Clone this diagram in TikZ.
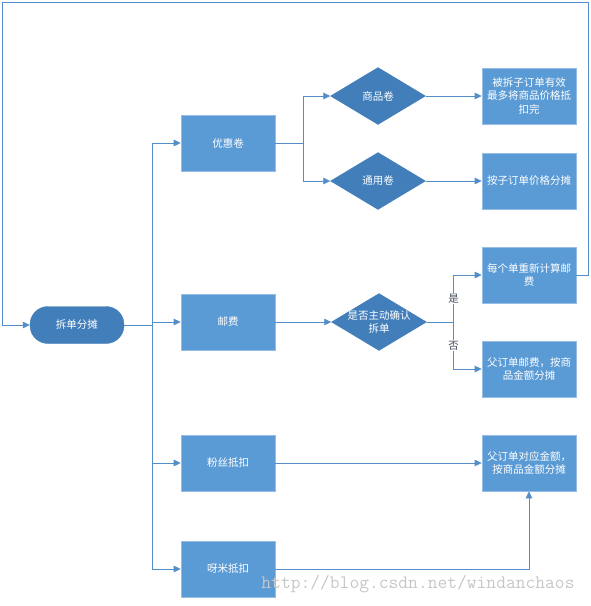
\documentclass[tikz,border=0pt]{standalone}
\usepackage{fontspec}
\newfontfamily\cjk{Noto Sans CJK SC}
\usetikzlibrary{shapes.geometric, arrows.meta, positioning, calc}
\definecolor{boxblue}{RGB}{91,155,213}
\definecolor{boxedge}{RGB}{150,190,228}
\definecolor{decblue}{RGB}{66,126,186}
\definecolor{flowline}{RGB}{84,141,200}
\definecolor{labelgray}{RGB}{70,80,95}

\begin{document}
\begin{tikzpicture}[x=1pt, y=-1pt,
  every node/.style={font=\cjk\fontsize{10.5}{13.5}\selectfont},
  stepbox/.style={rectangle, fill=boxblue, draw=boxedge, line width=0.6pt,
    minimum width=94pt, minimum height=56pt, inner sep=1pt, align=center, text=white},
  startbox/.style={rectangle, rounded corners=18pt, fill=decblue, draw=decblue,
    minimum width=94pt, minimum height=37pt, text=white},
  decision/.style={diamond, fill=decblue, draw=decblue, inner sep=0pt,
    minimum width=95pt, minimum height=57pt},
  flow/.style={draw=flowline, line width=0.8pt, -{Triangle[length=7pt, width=6.5pt]}},
  branch/.style={fill=white, text=labelgray, inner sep=1pt}]
  \useasboundingbox (0,0) rectangle (590,606);

  % Start and first level
  \node[startbox] (split) at (77,325) {拆单分摊};
  \node[stepbox] (coupon) at (228,143) {优惠卷};
  \node[stepbox] (postage) at (228,322) {邮费};
  \node[stepbox] (fans) at (228,463) {粉丝抵扣};
  \node[stepbox] (yami) at (228,569) {呀米抵扣};

  % Decisions
  \node[decision, label={[text=white]center:商品卷}] (goods) at (378,96) {};
  \node[decision, label={[text=white]center:通用卷}] (general) at (378,181) {};
  \node[decision, label={[text=white, align=center]center:是否主动确认\\拆单}] (confirm) at (379,322) {};

  % Results
  \node[stepbox] (goodsres) at (529,96) {被拆子订单有效\\最多将商品价格抵\\扣完};
  \node[stepbox] (generalres) at (529,181) {按子订单价格分摊};
  \node[stepbox] (recalc) at (529,275) {每个单重新计算邮\\费};
  \node[stepbox] (parentpost) at (529,369) {父订单邮费，按商\\品金额分摊};
  \node[stepbox] (fansres) at (529,463) {父订单对应金额，\\按商品金额分摊};

  % Watermark
  \node[font=\ttfamily\fontsize{19}{19}\selectfont, text=black!22] (watermark) at (418,584) {http://blog.csdn.net/windanchaos};

  % Trunk from start
  \draw[flow] (split.east) -- ++(28,0) |- (coupon.west);
  \draw[flow] (split.east) -- ++(28,0) |- (postage.west);
  \draw[flow] (split.east) -- ++(28,0) |- (fans.west);
  \draw[flow] (split.east) -- ++(28,0) |- (yami.west);

  % Coupon branch
  \draw[flow] (coupon.east) -- ++(28,0) |- (goods.west);
  \draw[flow] (coupon.east) -- ++(28,0) |- (general.west);
  \draw[flow] (goods.east) -- (goodsres.west);
  \draw[flow] (general.east) -- (generalres.west);

  % Postage branch
  \draw[flow] (postage.east) -- (confirm.west);
  \draw[flow] (confirm.east) -- ++(27,0) |- node[branch, pos=0.25] {是} (recalc.west);
  \draw[flow] (confirm.east) -- ++(27,0) |- node[branch, pos=0.25] {否} (parentpost.west);

  % Deductions
  \draw[flow] (fans.east) -- (fansres.west);
  \draw[flow] (yami.east) -| (fansres.south);

  % Loop back
  \coordinate (loopne) at (588,2);
  \coordinate (loopnw) at (2,2);
  \draw[flow] (recalc.east) -| (loopne) -- (loopnw) |- (split.west);
\end{tikzpicture}
\end{document}
